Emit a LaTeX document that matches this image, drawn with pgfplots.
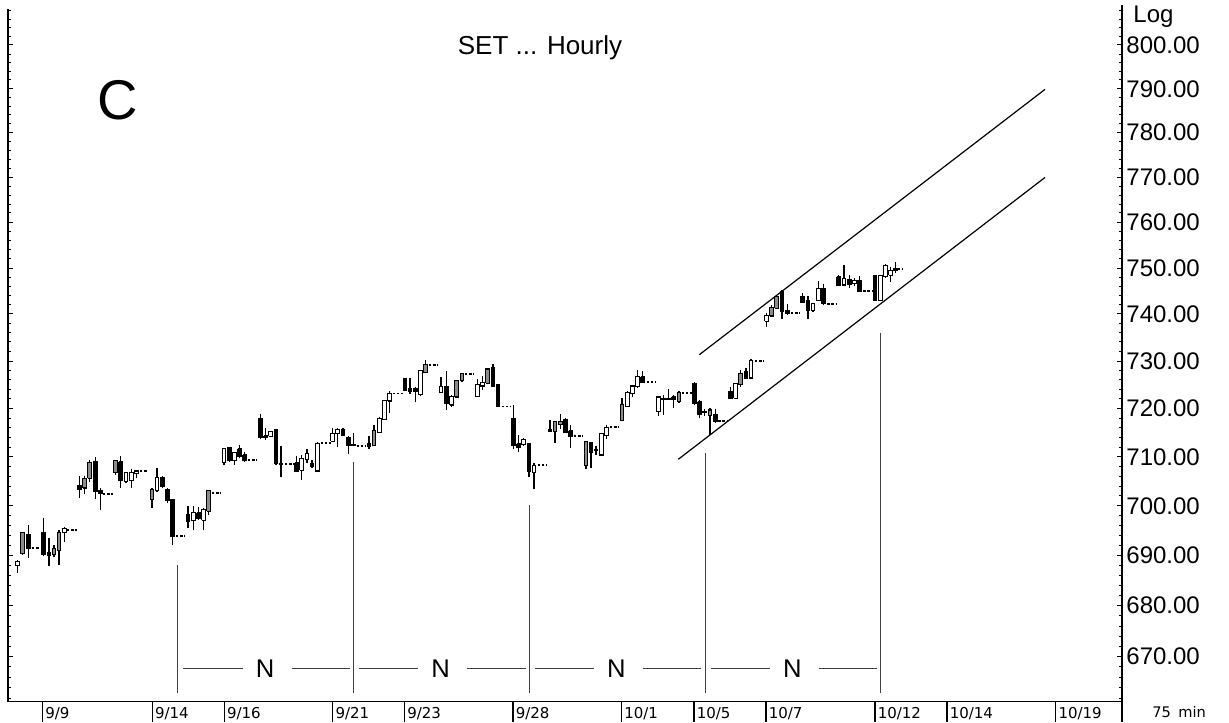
\documentclass[border=0pt]{standalone}
\usepackage{fontspec}
\setmainfont{Liberation Sans}
\newfontfamily\datefont{DejaVu Sans}
\usepackage{pgfplots}
\usepackage{pgfplotstable}
\pgfplotsset{compat=1.18}
\definecolor{cgray}{gray}{0.55}

% x = bar position (pixel columns of the time axis), o h l c = prices, t: 0 hollow, 1 grey, 2 black
\pgfplotstableread{
x o h l c t
17.3 687.9 689.1 686.5 688.8 0
22.7 690.3 694.7 690.1 694.5 1
28.3 694.1 696.1 689.5 691.3 2
43.3 694.5 697.5 689.9 690.1 2
49.0 690.6 693.5 687.9 690.0 2
54.0 690.1 692.1 689.7 691.3 1
59.0 691.0 695.1 688.1 694.6 1
64.3 694.5 695.8 692.8 695.3 0
79.3 704.1 706.1 701.6 703.2 2
84.7 703.6 706.1 702.4 705.5 1
89.7 705.6 709.4 704.9 708.8 1
95.3 709.0 710.0 701.4 702.9 2
100.3 703.1 703.6 699.2 702.4 2
115.7 706.7 709.4 706.3 709.2 1
120.7 709.0 710.1 703.6 705.1 2
126.0 704.9 706.8 704.7 706.7 0
131.3 705.1 707.5 703.5 706.8 0
136.3 706.5 707.3 705.6 707.1 0
152.0 701.3 703.6 699.6 703.4 1
157.0 703.1 707.7 702.9 705.8 0
162.3 705.7 706.0 703.6 703.9 2
167.7 703.4 703.6 700.6 701.0 2
172.7 701.3 701.4 692.1 693.8 2
188.0 698.1 699.8 695.5 696.8 2
193.3 697.0 699.8 695.1 698.7 0
198.7 698.6 699.7 697.0 697.5 2
203.7 697.0 699.6 695.0 699.3 0
208.7 698.9 703.2 698.1 703.0 1
224.0 708.8 711.8 708.2 711.6 0
229.3 711.8 712.0 709.0 709.2 2
234.3 709.2 710.9 708.4 710.8 0
239.7 711.6 712.5 709.7 710.1 2
244.7 710.4 711.1 709.0 709.2 2
260.3 718.0 718.9 713.7 713.9 2
265.7 714.3 715.9 713.5 714.1 2
270.7 714.2 715.4 714.1 715.2 0
276.0 715.6 715.7 708.4 708.6 2
281.0 708.7 712.3 705.8 708.4 2
296.7 708.8 710.2 707.0 707.1 2
301.7 707.2 710.4 705.1 709.7 0
307.0 709.5 711.6 708.7 710.6 0
312.0 708.6 709.4 707.7 707.9 2
317.3 707.1 713.0 707.0 712.8 0
332.7 713.2 715.9 713.0 714.8 0
337.7 714.8 715.9 712.1 715.7 0
343.0 715.7 715.9 714.2 714.3 2
348.3 714.1 714.3 710.6 712.4 2
353.3 712.5 714.9 712.2 712.3 2
369.0 712.7 714.2 711.6 712.1 2
374.0 712.4 716.6 712.3 715.5 1
379.3 715.1 718.3 715.0 718.0 0
384.3 717.8 721.8 717.6 721.7 0
389.7 721.6 723.6 719.0 723.2 0
405.0 726.2 726.4 723.6 723.8 2
410.0 724.1 726.4 723.1 723.6 2
415.3 724.3 724.6 721.3 723.6 2
420.7 722.9 728.1 722.6 728.0 0
425.7 727.6 730.2 727.4 729.2 1
441.0 723.3 726.6 723.2 724.6 0
446.3 724.6 728.0 719.7 721.0 2
451.7 720.7 722.9 720.4 722.6 0
456.7 722.4 726.0 722.4 725.8 1
462.0 725.8 727.5 725.7 727.4 1
477.3 722.6 726.2 722.5 725.0 0
482.3 724.7 726.8 723.9 725.4 0
487.7 725.3 728.5 725.3 728.3 1
493.0 728.5 729.4 724.5 724.6 2
498.0 725.0 725.2 720.3 720.4 2
513.3 718.0 720.8 711.6 712.3 2
518.7 712.7 714.5 710.9 712.0 2
523.7 712.5 713.9 712.3 713.5 0
529.0 712.7 712.8 705.8 707.0 2
534.0 706.8 708.7 703.4 708.2 0
550.0 715.7 717.6 715.2 715.2 2
555.0 715.2 717.3 712.8 717.3 1
560.3 716.6 718.9 715.7 717.3 1
565.3 717.8 718.1 714.9 715.0 2
570.7 715.4 716.6 711.8 714.2 2
586.0 708.2 713.1 707.5 713.1 1
591.0 713.0 713.1 707.7 710.9 2
596.0 711.5 712.3 710.4 711.3 2
601.3 710.4 714.9 710.4 714.8 0
606.3 714.5 716.6 713.7 716.1 0
622.0 717.6 722.2 717.3 720.9 1
627.3 720.5 723.6 720.4 723.3 0
632.3 723.2 725.0 722.4 724.7 0
637.7 724.5 728.1 724.3 726.7 0
642.7 726.7 727.8 725.3 725.4 2
658.3 719.4 722.5 718.5 722.4 0
663.3 722.2 722.9 718.7 721.8 2
668.7 722.2 724.1 721.8 721.8 2
673.7 722.4 722.9 720.1 721.9 2
679.0 721.4 723.6 721.1 723.3 1
694.3 725.3 725.7 720.8 721.0 2
699.7 721.4 721.8 718.0 718.7 2
704.7 719.5 719.9 718.5 719.1 2
710.0 718.5 720.1 714.5 719.7 1
715.3 718.7 719.9 717.1 717.3 2
730.7 723.6 724.6 722.0 722.2 2
735.7 722.2 725.4 722.0 725.3 0
740.7 725.0 728.1 724.6 727.4 1
746.0 727.8 728.5 726.2 726.4 2
751.0 726.4 730.4 726.2 730.1 0
766.7 738.4 740.2 737.2 739.8 0
771.7 739.6 742.0 739.4 741.5 1
776.7 741.3 744.1 741.1 743.8 1
782.0 744.8 745.2 738.9 740.5 2
787.3 740.7 742.2 739.8 740.0 2
802.7 743.8 744.5 742.3 742.5 2
808.0 743.0 743.8 739.1 740.9 2
813.0 740.7 742.5 740.5 742.2 0
818.3 743.0 747.2 742.9 745.6 0
823.7 745.6 746.5 742.0 742.2 2
838.7 748.1 748.4 746.1 746.3 2
844.0 746.3 750.6 746.1 747.7 0
849.3 747.5 748.4 745.6 746.4 2
854.3 746.5 747.8 746.1 747.2 0
859.3 747.2 748.2 744.8 745.0 2
875.0 748.2 748.4 742.9 743.0 2
880.3 743.0 748.4 742.7 748.2 0
885.7 748.1 750.8 747.9 750.6 0
890.7 748.4 750.2 747.0 749.5 0
895.7 749.9 751.3 748.9 749.4 2
}\candles

% closing ticks drawn as short dashes: from xa to xb at price p
\pgfplotstableread{
xa xb p
32 40 691.5
67 77 695.1
103 113 702.4
140 148 707.1
176 185 693.9
212 221 702.6
248 257 709.4
285 294 708.5
320.7 330.7 712.8
356.7 366 712.2
392.7 402.7 723.2
429 438.3 729.2
465 474 727.2
501.7 510 720.4
537.5 546.7 708.2
574 582.7 714.3
610 619 716.1
646.7 655 725.5
681.7 691.7 723.3
718.3 727.3 717.5
755 763.3 730.0
791 799.3 740.2
827.3 836 742.2
863.3 871.7 745.0
898 903 749.7
}\dashes

\begin{document}
\begin{tikzpicture}
\path[use as bounding box] (0,0) rectangle (614.5pt,361pt);
\begin{axis}[
  at={(4pt,10.25pt)}, anchor=south west,
  scale only axis, width=557pt, height=347.25pt,
  xmin=8, xmax=1122, ymin=661.4, ymax=808.9, ymode=log,
  axis line style={draw=none},
  ytick={670,680,690,700,710,720,730,740,750,760,770,780,790,800},
  yticklabels={670.00,680.00,690.00,700.00,710.00,720.00,730.00,740.00,750.00,760.00,770.00,780.00,790.00,800.00},
  minor ytick={662,664,666,668,672,674,676,678,682,684,686,688,692,694,696,698,702,704,706,708,712,714,716,718,722,724,726,728,732,734,736,738,742,744,746,748,752,754,756,758,762,764,766,768,772,774,776,778,782,784,786,788,792,794,796,798,802,804,806,808},
  yticklabel pos=right, ytick pos=both,
  tick align=inside,
  major tick length=2.4pt, minor tick length=1.3pt,
  tick style={black, line width=0.5pt},
  yticklabel style={anchor=west, inner sep=0pt, xshift=2pt, font=\fontsize{12}{14}\selectfont},
  xtick={42.5,152.3,224.3,332.7,404.5,513,621.5,694,766,875,947,1055.7},
  xticklabels={9/9,9/14,9/16,9/21,9/23,9/28,10/1,10/5,10/7,10/12,10/14,10/19},
  xtick style={draw=none},
  xticklabel style={anchor=base west, inner sep=0pt, xshift=1.2pt, yshift=-8.75pt, font=\datefont\fontsize{7.5}{9}\selectfont},
]
% candles
\pgfplotsinvokeforeach{0,...,122}{%
  \pgfplotstablegetelem{#1}{x}\of\candles\let\kx\pgfplotsretval
  \pgfplotstablegetelem{#1}{o}\of\candles\let\ko\pgfplotsretval
  \pgfplotstablegetelem{#1}{h}\of\candles\let\kh\pgfplotsretval
  \pgfplotstablegetelem{#1}{l}\of\candles\let\kl\pgfplotsretval
  \pgfplotstablegetelem{#1}{c}\of\candles\let\kc\pgfplotsretval
  \pgfplotstablegetelem{#1}{t}\of\candles\let\kt\pgfplotsretval
  \pgfmathsetmacro\kxl{\kx-1.9}%
  \pgfmathsetmacro\kxr{\kx+1.9}%
  \ifcase\kt\relax\def\kf{white}\or\def\kf{cgray}\else\def\kf{black}\fi
  \edef\cmd{%
    \noexpand\addplot[forget plot, mark=none, draw=black, line width=0.55pt] coordinates {(\kx,\kl) (\kx,\kh)};
    \noexpand\addplot[forget plot, mark=none, draw=black, fill=\kf, line width=0.55pt] coordinates {(\kxl,\ko) (\kxr,\ko) (\kxr,\kc) (\kxl,\kc) (\kxl,\ko)};
  }\cmd
}
% dashes
\pgfplotsinvokeforeach{0,...,24}{%
  \pgfplotstablegetelem{#1}{xa}\of\dashes\let\dXa\pgfplotsretval
  \pgfplotstablegetelem{#1}{xb}\of\dashes\let\dXb\pgfplotsretval
  \pgfplotstablegetelem{#1}{p}\of\dashes\let\dXp\pgfplotsretval
  \edef\cmd{%
    \noexpand\addplot[forget plot, mark=none, black, line width=0.9pt, dash pattern=on 1.2pt off 0.85pt] coordinates {(\dXa,\dXp) (\dXb,\dXp)};
  }\cmd
}
% channel
\addplot[forget plot, mark=none, black, line width=0.6pt] coordinates {(699.3,731.3) (1045,789.8)};
\addplot[forget plot, mark=none, black, line width=0.6pt] coordinates {(678.3,709.5) (1045,770.0)};
% vertical time lines
\addplot[forget plot, mark=none, black!75, line width=0.5pt] coordinates {(177.7,688.1) (177.7,663.0)};
\addplot[forget plot, mark=none, black!75, line width=0.5pt] coordinates {(353.3,709.0) (353.3,663.0)};
\addplot[forget plot, mark=none, black!75, line width=0.5pt] coordinates {(529.0,700.2) (529.0,663.0)};
\addplot[forget plot, mark=none, black!75, line width=0.5pt] coordinates {(705.0,710.8) (705.0,663.0)};
\addplot[forget plot, mark=none, black!75, line width=0.5pt] coordinates {(880.7,736.0) (880.7,663.0)};
% N segments
\addplot[forget plot, mark=none, black!75, line width=0.5pt] coordinates {(183.3,667.8) (242.7,667.8)};
\addplot[forget plot, mark=none, black!75, line width=0.5pt] coordinates {(291.7,667.8) (350.0,667.8)};
\addplot[forget plot, mark=none, black!75, line width=0.5pt] coordinates {(358.9,667.8) (418.3,667.8)};
\addplot[forget plot, mark=none, black!75, line width=0.5pt] coordinates {(467.3,667.8) (525.6,667.8)};
\addplot[forget plot, mark=none, black!75, line width=0.5pt] coordinates {(534.6,667.8) (594.0,667.8)};
\addplot[forget plot, mark=none, black!75, line width=0.5pt] coordinates {(643.0,667.8) (701.3,667.8)};
\addplot[forget plot, mark=none, black!75, line width=0.5pt] coordinates {(710.6,667.8) (770.0,667.8)};
\addplot[forget plot, mark=none, black!75, line width=0.5pt] coordinates {(819.0,667.8) (877.3,667.8)};
\end{axis}
% frame, separators and texts in image pixel coordinates
\begin{scope}[x=0.5pt, y=-0.5pt, shift={(0,361pt)}]
  \draw[line width=0.6pt] (8,9) -- (8,701.5) -- (1122,701.5);
  \draw[line width=0.6pt] (1122,5) -- (1122,722);
  \foreach \s in {42.5,152.3,224.3,332.7,404.5,513,621.5,694,766,875,947,1055.7}
    \draw[line width=0.6pt] (\s,701.5) -- (\s,722);
  \node[font=\fontsize{13}{15}\selectfont] at (540,48) {SET ... Hourly};
  \node[font=\fontsize{28}{32}\selectfont] at (117.5,100) {C};
  \node[anchor=west, inner sep=0pt, font=\fontsize{12}{14}\selectfont] at (1133,17) {Log};
  \node[anchor=west, inner sep=0pt, font=\datefont\fontsize{7.3}{9}\selectfont] at (1152,712) {75\enspace min};
  \foreach \nx in {265,440.6,616.3,792.3}
    \node[font=\fontsize{12.8}{15}\selectfont] at (\nx,669) {N};
\end{scope}
\end{tikzpicture}
\end{document}
